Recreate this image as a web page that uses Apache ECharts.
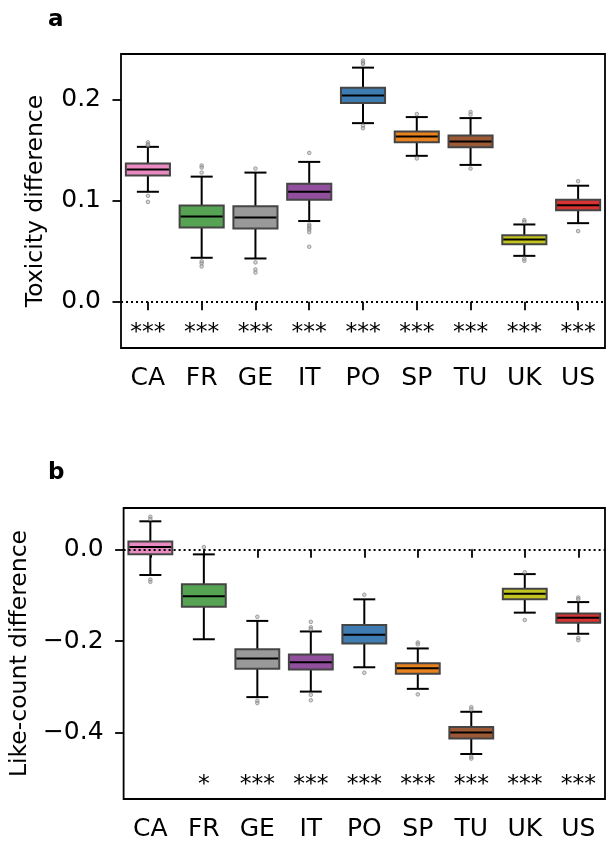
<!DOCTYPE html>
<html>
<head>
<meta charset="utf-8">
<script src="https://cdn.jsdelivr.net/npm/echarts@6/dist/echarts.min.js"></script>
<style>
html,body{margin:0;padding:0;background:#fff;}
#chart{width:606px;height:842px;}
</style>
</head>
<body>
<div id="chart"></div>
<script>
const categories = ['CA','FR','GE','IT','PO','SP','TU','UK','US'];

// Panel a: Toxicity difference
const toxLow  = [0.109, 0.0436, 0.0429, 0.080, 0.177, 0.1446, 0.1356, 0.0455, 0.0779];
const toxQ1   = [0.125, 0.0736, 0.0726, 0.101, 0.197, 0.158, 0.153, 0.057, 0.0908];
const toxMed  = [0.131, 0.0845, 0.0835, 0.109, 0.2043, 0.1637, 0.1587, 0.0617, 0.0957];
const toxQ3   = [0.137, 0.0954, 0.0947, 0.117, 0.212, 0.1686, 0.1647, 0.066, 0.101];
const toxHigh = [0.1535, 0.124, 0.128, 0.1386, 0.232, 0.183, 0.182, 0.0766, 0.115];
const toxOutliers = [
  [0.158, 0.156, 0.155, 0.105, 0.099],
  [0.135, 0.133, 0.128, 0.040, 0.038, 0.035],
  [0.132, 0.039, 0.032, 0.029],
  [0.1475, 0.0766, 0.075, 0.073, 0.0716, 0.069, 0.0545],
  [0.239, 0.237, 0.2356, 0.1746, 0.172],
  [0.186, 0.142],
  [0.188, 0.1855, 0.132],
  [0.0809, 0.079, 0.0426, 0.0406],
  [0.1195, 0.070]
];
const toxSig = ['***','***','***','***','***','***','***','***','***'];

// Panel b: Like-count difference
const likeLow  = [-0.056, -0.196, -0.322, -0.310, -0.257, -0.304, -0.446, -0.138, -0.184];
const likeQ1   = [-0.011, -0.125, -0.260, -0.262, -0.205, -0.271, -0.412, -0.109, -0.160];
const likeMed  = [0.005, -0.102, -0.238, -0.246, -0.186, -0.259, -0.399, -0.097, -0.149];
const likeQ3   = [0.017, -0.076, -0.218, -0.229, -0.165, -0.248, -0.387, -0.086, -0.140];
const likeHigh = [0.061, -0.011, -0.156, -0.179, -0.109, -0.216, -0.354, -0.054, -0.115];
const likeOutliers = [
  [0.071, 0.066, -0.066, -0.071],
  [0.005],
  [-0.147, -0.330, -0.335],
  [-0.158, -0.170, -0.174, -0.317, -0.329],
  [-0.099, -0.269],
  [-0.203, -0.207, -0.316],
  [-0.344, -0.349, -0.452, -0.456],
  [-0.050, -0.154],
  [-0.105, -0.109, -0.193, -0.198]
];
const likeSig = ['','*','***','***','***','***','***','***','***'];

const toxTicks = [0, 0.1, 0.2];
const likeTicks = [-0.4, -0.2, 0];

const palette = ['#e98ac1','#55a353','#999999','#914f9d','#3f7cb2','#e8821e','#9b5a35','#c4c41f','#d83232'];

const FONT = 'DejaVu Sans';

function boxData(lo,q1,md,q3,hi){
  return categories.map((c,i)=>[i, lo[i], q1[i], md[i], q3[i], hi[i]]);
}
function outlierData(out){
  const r=[];
  out.forEach((arr,i)=>arr.forEach(v=>r.push([i,v])));
  return r;
}

function renderBox(params, api){
  const i = api.value(0);
  const lo = api.coord([i, api.value(1)]);
  const q1 = api.coord([i, api.value(2)]);
  const md = api.coord([i, api.value(3)]);
  const q3 = api.coord([i, api.value(4)]);
  const hi = api.coord([i, api.value(5)]);
  const bw = api.size([1,0])[0]*0.82;
  const cx = q1[0];
  const cap = bw*0.5;
  const blk = {stroke:'#000', lineWidth:2};
  return {
    type:'group',
    children:[
      {type:'line', shape:{x1:cx,y1:q3[1],x2:cx,y2:hi[1]}, style:blk},
      {type:'line', shape:{x1:cx,y1:q1[1],x2:cx,y2:lo[1]}, style:blk},
      {type:'line', shape:{x1:cx-cap/2,y1:hi[1],x2:cx+cap/2,y2:hi[1]}, style:blk},
      {type:'line', shape:{x1:cx-cap/2,y1:lo[1],x2:cx+cap/2,y2:lo[1]}, style:blk},
      {type:'rect', shape:{x:cx-bw/2,y:q3[1],width:bw,height:q1[1]-q3[1]},
        style:{fill:palette[i], stroke:'#454545', lineWidth:2}},
      {type:'line', shape:{x1:cx-bw/2+1,y1:md[1],x2:cx+bw/2-1,y2:md[1]}, style:{stroke:'#000', lineWidth:2}}
    ]
  };
}

function fmt(v){
  if (Math.abs(v) < 1e-9) return '0.0';
  return v < 0 ? '\u2212' + (-v).toFixed(1) : v.toFixed(1);
}

function makeSigSeries(sig, y, idx){
  return {
    type:'custom', xAxisIndex:idx, yAxisIndex:idx, z:6, silent:true,
    data: sig.map((s,i)=>[i, y]),
    renderItem: function(params, api){
      const p = api.coord([api.value(0), api.value(1)]);
      return {type:'text', style:{x:p[0], y:p[1], text:sig[params.dataIndex], fill:'#000',
        font:'23.5px "'+FONT+'"', align:'center', verticalAlign:'middle'}};
    }
  };
}

const gridLeft = 121, gridW = 484;

const option = {
  animation:false,
  backgroundColor:'#fff',
  title:[
    {text:'a', left:43, top:4, textStyle:{fontFamily:FONT, fontWeight:'bold', fontSize:23, color:'#000'}},
    {text:'b', left:43, top:457, textStyle:{fontFamily:FONT, fontWeight:'bold', fontSize:23, color:'#000'}}
  ],
  grid:[
    {left:gridLeft, top:54, width:gridW, height:294, show:true, borderColor:'#000', borderWidth:1.8, backgroundColor:'transparent'},
    {left:gridLeft, top:508, width:gridW, height:294, show:true, borderColor:'#000', borderWidth:1.8, backgroundColor:'transparent'}
  ],
  xAxis:[0,1].map(g=>({
    type:'category', gridIndex:g, data:categories,
    axisLine:{show:false},
    axisTick:{show:true, alignWithLabel:true, length:8.5, lineStyle:{color:'#000', width:1.8}},
    axisLabel:{fontFamily:FONT, fontSize:25, color:'#000', margin:18},
    splitLine:{show:false}
  })),
  yAxis:[
    {type:'value', gridIndex:0, min:-0.0458, max:0.2455,
     name:'Toxicity difference', nameLocation:'middle', nameGap:73,
     nameTextStyle:{fontFamily:FONT, fontSize:23.5, color:'#000'},
     axisLine:{show:false},
     axisTick:{show:true, length:8.5, lineStyle:{color:'#000', width:1.8}, customValues:toxTicks},
     axisLabel:{fontFamily:FONT, fontSize:25, color:'#000', margin:20, customValues:toxTicks, formatter:fmt},
     splitLine:{show:false}},
    {type:'value', gridIndex:1, min:-0.544, max:0.090,
     name:'Like-count difference', nameLocation:'middle', nameGap:73,
     nameTextStyle:{fontFamily:FONT, fontSize:23.5, color:'#000'},
     axisLine:{show:false},
     axisTick:{show:true, length:8.5, lineStyle:{color:'#000', width:1.8}, customValues:likeTicks},
     axisLabel:{fontFamily:FONT, fontSize:25, color:'#000', margin:20, customValues:likeTicks, formatter:fmt},
     splitLine:{show:false}}
  ],
  series:[
    {type:'custom', xAxisIndex:0, yAxisIndex:0, z:2, silent:true,
     data: boxData(toxLow,toxQ1,toxMed,toxQ3,toxHigh), renderItem: renderBox},
    {type:'custom', xAxisIndex:1, yAxisIndex:1, z:2, silent:true,
     data: boxData(likeLow,likeQ1,likeMed,likeQ3,likeHigh), renderItem: renderBox},
    {type:'scatter', xAxisIndex:0, yAxisIndex:0, z:4, silent:true, symbol:'circle', symbolSize:3.6,
     itemStyle:{color:'rgba(170,170,170,0.6)', borderColor:'#808080', borderWidth:0.9},
     data: outlierData(toxOutliers),
     markLine:{silent:true, symbol:['none','none'], label:{show:false},
       lineStyle:{color:'#000', type:[2,3], width:2, opacity:1}, data:[{yAxis:0}]}},
    {type:'scatter', xAxisIndex:1, yAxisIndex:1, z:4, silent:true, symbol:'circle', symbolSize:3.6,
     itemStyle:{color:'rgba(170,170,170,0.6)', borderColor:'#808080', borderWidth:0.9},
     data: outlierData(likeOutliers),
     markLine:{silent:true, symbol:['none','none'], label:{show:false},
       lineStyle:{color:'#000', type:[2,3], width:2, opacity:1}, data:[{yAxis:0}]}},
    makeSigSeries(toxSig, -0.031, 0),
    makeSigSeries(likeSig, -0.5135, 1)
  ]
};

const chart = echarts.init(document.getElementById('chart'), null, {renderer:'canvas'});
chart.setOption(option);
</script>
</body>
</html>
